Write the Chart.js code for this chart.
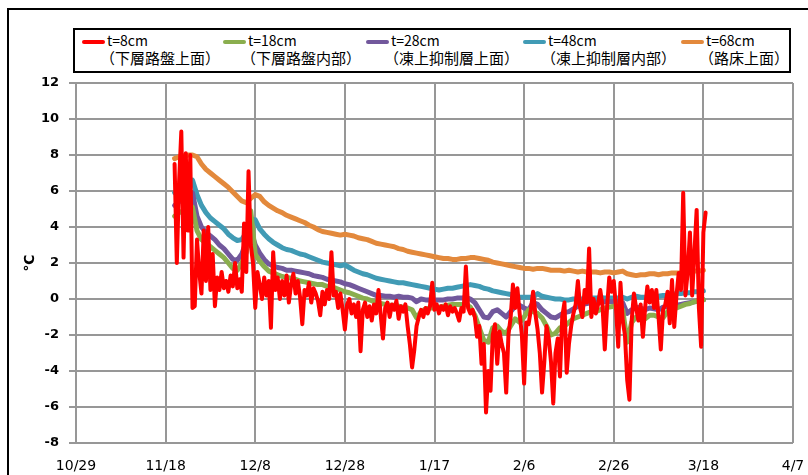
<!DOCTYPE html>
<html lang="ja">
<head>
<meta charset="utf-8">
<script src="https://cdn.jsdelivr.net/npm/chart.js@4/dist/chart.umd.min.js"></script>
<style>
  html, body { margin: 0; padding: 0; background: #fff; overflow: hidden; }
  #wrap { position: relative; width: 808px; height: 475px; overflow: hidden; }
  #frame { position: absolute; left: 7px; top: 8px; width: 900px; height: 600px; border: 2px solid #000; box-sizing: border-box; }
  #chart { position: absolute; left: 0; top: 0; }
  #legend { position: absolute; left: 73px; top: 28px; width: 718px; height: 45px; border: 2px solid #000; box-sizing: border-box; background: #fff; }
  .item { position: absolute; top: 2px; font-family: "Noto Sans CJK JP", "Noto Sans", sans-serif; color: #000; white-space: nowrap; }
  .swatch { position: absolute; left: 0; top: 8px; width: 23px; height: 4px; border-radius: 2px; }
  .l1 { position: absolute; left: 25px; top: 0; font-size: 14px; line-height: 17px; }
  .l2 { position: absolute; left: 18px; top: 17px; font-size: 15px; line-height: 18px; }
</style>
</head>
<body>
<div id="wrap">
  <div id="frame"></div>
  <canvas id="chart" width="808" height="475"></canvas>
  <div id="legend"></div>
</div>
<script>
// X axis: days counted from 10/29, gridlines every 20 days
const tickLabels = ['10/29', '11/18', '12/8', '12/28', '1/17', '2/6', '2/26', '3/18', '4/7'];
const firstDay = 22;          // 11/20, first record
const stepT8 = 0.5;           // t=8cm sampled twice a day
const stepDeep = 1;           // deeper sensors, daily

const depthLabels = ['t=8cm', 't=18cm', 't=28cm', 't=48cm', 't=68cm'];
const layerLabels = ['（下層路盤上面）', '（下層路盤内部）', '（凍上抑制層上面）', '（凍上抑制層内部）', '（路床上面）'];
const colors = ['#ff0000', '#8aae4e', '#72589c', '#419bb5', '#e3893c'];

// Temperature (°C)
const t8 = [
  7.5, 2.0, 6.5, 9.3, 2.3, 8.1, 3.8, 8.0, -0.5, -0.4,
  3.3, 1.5, 0.3, 3.8, 1.0, 4.0, 0.5, 2.5, -0.4, 1.2,
  0.5, 1.5, 0.6, 1.0, 0.4, 1.3, 0.7, 2.0, 0.6, 1.1,
  0.4, 4.2, 1.5, 7.1, 3.0, 2.0, -0.5, 1.5,
  0.8, 0.0, 1.2, 0.2, 1.0, -1.6, 2.6, 0.5, 1.2, 0.0,
  1.0, 0.2, 1.3, -0.2, 0.8, 1.4, 0.3, 1.0, 0.1, -1.4,
  0.5, 0.2, 0.9, -0.2, 0.6, 0.3, -0.1, -0.9, 0.4, -0.3,
  0.5, 0.0, 2.6, 0.2, 0.4, -0.5, 0.3, -0.6, -1.7, -0.3,
  0.0, -0.8,
  -0.3, -1.0, -0.2, -2.9, -0.6, -0.2, -1.0, -0.4, -1.2, -0.3,
  -0.8, 0.5, -0.9, -2.2, -0.5, -0.2, -1.0, -0.3, -0.6, -0.1,
  -1.1, -0.4, -0.7, -0.3, -1.5, -2.5, -3.8, -2.8, -1.5, -1.0,
  -0.6, -1.0, -0.5, -0.8, -0.4, 0.9, -0.6, -0.3, -0.8, -0.4,
  -0.6, -0.3, -0.9, -0.4, -0.7, -0.5, -0.8, -1.2, -0.5, -0.7,
  1.8, -0.5, -0.8, -0.6, -1.0, -2.1, -1.5, -3.6, -2.5, -6.3,
  -4.0, -5.1, -2.0, -1.4, -3.6, -1.8, -2.5, -3.0, -5.2, -2.0,
  -1.0, 0.8, -0.5, 0.6, -0.8, -2.0, -4.7, -1.3,
  -1.4, -0.6, 0.4, -0.8, -1.7, -3.0, -5.2, -3.5, -1.5, -2.2,
  -3.5, -5.8, -3.0, -2.2, -4.3, -1.0, -0.2, -4.1, -2.5, -1.5,
  -0.8, -0.3, 1.0, -0.5, -1.0, 0.5, -0.2, 2.8, -1.0, 0.0,
  -0.8, -0.3, 0.5, -0.4, -2.8, -0.5, 1.2, 0.4, 1.0, -0.5,
  -2.65, 0.9,
  -1.2, -2.0, -4.5, -5.6, -1.2, 0.3, -0.5, -1.2, -0.3, -2.1,
  -0.5, 0.7, -0.2, 0.5, -0.5, 0.5, -1.0, -2.8, -0.6, -0.3,
  0.4, -1.35, 1.05, -1.55, 0.2, 1.45, 0.5, 5.9, 0.2, 1.5,
  3.7, 0.2, 2.55, 4.95, -0.5, -2.65, 3.7, 4.8
];
const t18 = [
  4.6, 4.8, 4.9, 5.0, 5.1, 3.8, 3.3, 3.1, 2.9, 2.7,
  2.5, 2.3, 2.0, 1.7, 1.6, 2.0, 2.6, 4.9, 2.5, 2.1,
  1.8, 1.55, 1.45, 1.35, 1.25, 1.2, 1.15, 1.1, 1.0, 0.95,
  0.9, 0.85, 0.8, 0.8, 0.7, 0.65, 0.6, 0.5, 0.4, 0.35,
  0.25, 0.15, 0.05, 0.0, -0.1, -0.2, -0.25, -0.3, -0.35, -0.35,
  -0.4, -0.45, -0.5, -0.6, -1.05, -0.7, -0.55, -0.5, -0.5, -0.45,
  -0.4, -0.35, -0.3, -0.3, -0.3, -0.3, -0.45, -0.9, -1.6, -2.3,
  -2.4, -1.6, -1.5, -1.8, -1.9, -1.5, -1.1, -1.3, -1.0, -0.6,
  -0.7, -0.8, -1.05, -1.5, -2.0, -1.9, -1.6, -1.5, -1.3, -1.1,
  -1.0, -0.9, -0.8, -0.7, -0.7, -0.6, -0.5, -0.45, -0.4, -0.35,
  -0.6, -2.4, -1.3, -1.0, -0.9, -1.1, -0.9, -0.9, -1.0, -1.05,
  -0.7, -0.6, -0.5, -0.4, -0.3, -0.25, -0.15, -0.1, -0.05
];
const t28 = [
  5.2, 5.4, 5.5, 5.7, 5.9, 4.6, 4.0, 3.7, 3.5, 3.3,
  3.0, 2.8, 2.5, 2.2, 2.15, 2.5, 3.2, 3.8, 3.0, 2.55,
  2.2, 1.95, 1.85, 1.75, 1.7, 1.6, 1.6, 1.55, 1.5, 1.45,
  1.4, 1.3, 1.25, 1.2, 1.1, 1.05, 1.0, 0.95, 0.85, 0.8,
  0.7, 0.6, 0.5, 0.4, 0.3, 0.2, 0.2, 0.15, 0.15, 0.1,
  0.15, 0.1, 0.1, 0.05, -0.15, 0.0, -0.05, -0.05, -0.05, -0.05,
  -0.05, 0.0, 0.0, 0.05, 0.05, 0.1, 0.0, -0.2, -0.6, -1.0,
  -1.05, -0.7, -0.6, -0.8, -1.0, -0.7, -0.4, -0.35, -0.5, -0.6,
  -0.2, -0.3, -0.6, -0.8, -1.0, -1.05, -0.9, -0.75, -0.7, -0.55,
  -0.4, -0.3, -0.25, -0.2, -0.2, -0.2, -0.15, -0.15, -0.15, -0.15,
  -0.2, -0.8, -0.6, -0.45, -0.5, -0.6, -0.5, -0.55, -0.6, -0.45,
  -0.4, -0.35, -0.35, -0.3, -0.25, -0.2, -0.15, -0.1, -0.05
];
const t48 = [
  5.9, 6.1, 6.2, 6.4, 6.6, 5.8, 5.2, 4.8, 4.5, 4.3,
  4.1, 3.9, 3.6, 3.4, 3.25, 3.3, 3.7, 4.4, 4.4, 3.9,
  3.6, 3.35, 3.15, 3.0, 2.85, 2.75, 2.7, 2.6, 2.5, 2.45,
  2.35, 2.25, 2.15, 2.05, 2.0, 1.95, 1.9, 1.85, 1.9, 1.75,
  1.6, 1.5, 1.4, 1.35, 1.25, 1.15, 1.1, 1.05, 1.0, 0.95,
  0.9, 0.9, 0.85, 0.8, 0.75, 0.7, 0.65, 0.6, 0.55, 0.5,
  0.55, 0.6, 0.6, 0.65, 0.7, 0.75, 0.8, 0.75, 0.7, 0.6,
  0.55, 0.45, 0.4, 0.35, 0.3, 0.25, 0.15, 0.1, 0.1, 0.1,
  0.1, 0.3, 0.15, 0.1, 0.05, 0.0, 0.0, -0.05, -0.05, 0.0,
  0.0, 0.0, 0.05, 0.05, 0.05, 0.1, 0.05, 0.05, 0.05, 0.05,
  0.1, 0.0, 0.1, 0.15, 0.1, 0.1, 0.1, 0.15, 0.15, 0.2,
  0.2, 0.25, 0.3, 0.3, 0.35, 0.35, 0.4, 0.4, 0.45
];
const t68 = [
  7.8, 7.9, 7.9, 8.0, 8.0, 7.9, 7.5, 7.2, 7.0, 6.8,
  6.6, 6.4, 6.2, 5.95, 5.7, 5.45, 5.35, 5.6, 5.8, 5.7,
  5.4, 5.2, 5.05, 4.9, 4.8, 4.65, 4.55, 4.45, 4.35, 4.25,
  4.1, 4.0, 3.85, 3.75, 3.7, 3.65, 3.6, 3.55, 3.6, 3.55,
  3.5, 3.4, 3.35, 3.3, 3.2, 3.1, 3.05, 3.0, 2.95, 2.9,
  2.8, 2.75, 2.65, 2.6, 2.55, 2.5, 2.45, 2.4, 2.35, 2.3,
  2.25, 2.25, 2.2, 2.2, 2.25, 2.25, 2.3, 2.3, 2.25, 2.2,
  2.15, 2.05, 2.0, 1.95, 1.9, 1.85, 1.8, 1.75, 1.7, 1.7,
  1.65, 1.7, 1.7, 1.65, 1.6, 1.6, 1.6, 1.55, 1.6, 1.55,
  1.5, 1.55, 1.5, 1.5, 1.5, 1.45, 1.5, 1.5, 1.45, 1.5,
  1.55, 1.4, 1.35, 1.3, 1.35, 1.35, 1.4, 1.4, 1.35, 1.4,
  1.4, 1.45, 1.45, 1.45, 1.5, 1.5, 1.55, 1.55, 1.6
];

const seriesValues = [t8, t18, t28, t48, t68];
const seriesSteps = [stepT8, stepDeep, stepDeep, stepDeep, stepDeep];

function toPoints(values, step) {
  return values.map((v, i) => ({ x: firstDay + i * step, y: v }));
}

const datasets = seriesValues.map((vals, k) => ({
  label: depthLabels[k] + layerLabels[k],
  data: toPoints(vals, seriesSteps[k]),
  borderColor: colors[k],
  backgroundColor: colors[k],
  borderWidth: k === 0 ? 4 : 5,
  pointRadius: 0,
  tension: 0,
  borderJoinStyle: 'round',
  borderCapStyle: 'round',
  fill: false
}));

const gridColor = '#979797';

new Chart(document.getElementById('chart'), {
  type: 'line',
  data: { datasets },
  options: {
    responsive: false,
    animation: false,
    devicePixelRatio: 1,
    layout: { padding: { left: 0, right: 15, top: 83, bottom: 0 } },
    plugins: { legend: { display: false }, tooltip: { enabled: false } },
    scales: {
      x: {
        type: 'linear',
        min: 0,
        max: 160,
        ticks: {
          stepSize: 20,
          autoSkip: false,
          maxRotation: 0,
          padding: 15,
          color: '#000',
          font: { family: 'DejaVu Sans', size: 14 },
          callback: (v) => tickLabels[Math.round(v / 20)]
        },
        grid: { color: gridColor, lineWidth: 2, tickLength: 0, drawTicks: true },
        border: { display: false },
        afterFit: (s) => { s.height = 32; s.paddingLeft = 0; s.paddingRight = 0; }
      },
      y: {
        min: -8,
        max: 12,
        ticks: {
          stepSize: 2,
          padding: 10,
          color: '#000',
          font: { family: 'DejaVu Sans', size: 13, weight: 'bold' }
        },
        grid: { color: gridColor, lineWidth: 2, tickLength: 7 },
        border: { display: false },
        title: {
          display: true,
          text: '℃',
          color: '#000',
          font: { family: 'DejaVu Sans', size: 14, weight: 'bold' },
          padding: { top: 22, bottom: 0 }
        },
        afterFit: (s) => { s.width = 76; s.paddingTop = 0; s.paddingBottom = 0; }
      }
    }
  }
});

// Legend box: colour swatch, depth and layer name on two lines
const legend = document.getElementById('legend');
const itemLeft = [7, 148, 291, 448, 606];
depthLabels.forEach((d, k) => {
  const item = document.createElement('div');
  item.className = 'item';
  item.style.left = itemLeft[k] + 'px';
  const sw = document.createElement('div');
  sw.className = 'swatch';
  sw.style.background = colors[k];
  const l1 = document.createElement('div');
  l1.className = 'l1';
  l1.textContent = d;
  const l2 = document.createElement('div');
  l2.className = 'l2';
  l2.textContent = layerLabels[k];
  item.appendChild(sw);
  item.appendChild(l1);
  item.appendChild(l2);
  legend.appendChild(item);
});
</script>
</body>
</html>
